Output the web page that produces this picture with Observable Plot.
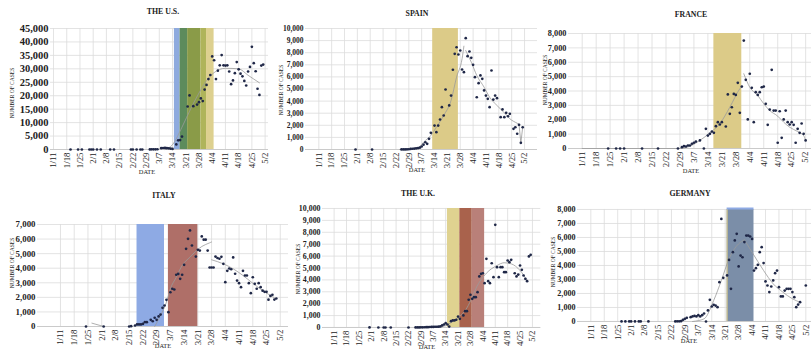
<!DOCTYPE html>
<html><head><meta charset="utf-8">
<script src="https://cdn.jsdelivr.net/npm/d3@7"></script>
<script src="https://cdn.jsdelivr.net/npm/@observablehq/plot@0.6"></script>
<style>
html,body{margin:0;padding:0;background:#fff;overflow:hidden;}
#root{position:relative;width:811px;height:349px;overflow:hidden;font-family:"Liberation Serif","Times New Roman",serif;color:#222;}
#root svg, #root svg text{font-family:"Liberation Serif","Times New Roman",serif !important;}
.t{position:absolute;transform:translate(-50%,-50%);white-space:nowrap;line-height:1;}
.title{font-size:7.8px;font-weight:bold;}
.xl{font-size:6.4px;}
.yl{font-size:5.5px;transform:translate(-50%,-50%) rotate(-90deg);}
.panel{position:absolute;}
</style></head><body><div id="root"></div>
<script>
// ---------- data ----------
const dateTicks = ["1/11","1/18","1/25","2/1","2/8","2/15","2/22","2/29","3/7","3/14","3/21","3/28","4/4","4/11","4/18","4/25","5/2"];

const usYTicks = [0,5000,10000,15000,20000,25000,30000,35000,40000,45000];
const spainYTicks = [0,1000,2000,3000,4000,5000,6000,7000,8000,9000,10000];
const franceYTicks = [0,1000,2000,3000,4000,5000,6000,7000,8000];
const italyYTicks = [0,1000,2000,3000,4000,5000,6000,7000];
const ukYTicks = [0,1000,2000,3000,4000,5000,6000,7000,8000,9000,10000];
const germanyYTicks = [0,1000,2000,3000,4000,5000,6000,7000,8000];

const usCases = [["1/20",1],["1/24",1],["1/26",1],["1/30",1],["1/31",1],["2/1",1],["2/3",1],["2/5",1],["2/10",1],["2/12",1],["2/21",1],["2/22",1],["2/24",1],["2/26",1],["2/27",1],["3/2",30],["3/3",50],["3/4",60],["3/5",80],["3/6",100],["3/8",500],["3/9",550],["3/10",600],["3/11",500],["3/12",450],["3/13",300],["3/14",200],["3/16",1900],["3/17",3400],["3/18",3500],["3/19",4800],["3/22",16000],["3/23",20100],["3/25",16100],["3/27",16700],["3/28",17600],["3/29",19000],["3/30",18000],["3/31",22300],["4/1",24000],["4/2",26200],["4/3",27700],["4/4",34600],["4/5",33200],["4/6",26200],["4/7",29300],["4/8",31300],["4/9",35100],["4/10",31300],["4/11",31200],["4/12",31300],["4/13",29000],["4/14",24300],["4/15",25700],["4/16",28400],["4/17",32500],["4/18",29800],["4/19",28200],["4/20",27200],["4/21",25500],["4/22",23800],["4/23",29000],["4/24",30700],["4/25",38200],["4/26",32100],["4/27",29100],["4/28",22600],["4/29",20300],["4/30",31200],["5/1",31600]];
const usTrend = [["3/10",0],["3/14",1800],["3/19",8300],["3/24",15700],["3/28",21000],["4/1",25600],["4/5",28600],["4/11",30200],["4/18",30000],["4/23",27600],["4/29",24800]];
const usBands = [["3/15","3/18"],["3/18","3/22"],["3/22","3/29"],["3/29","4/1"],["4/1","4/5"]];

const spainCases = [["1/31",1],["2/9",1],["2/25",5],["2/26",8],["2/27",10],["2/28",15],["2/29",20],["3/1",50],["3/2",60],["3/3",80],["3/4",100],["3/5",120],["3/6",150],["3/7",250],["3/8",400],["3/9",600],["3/10",470],["3/11",880],["3/12",1380],["3/14",1980],["3/15",1430],["3/16",1980],["3/17",2480],["3/18",3500],["3/19",2810],["3/20",4960],["3/22",3640],["3/23",4460],["3/24",6590],["3/25",7910],["3/26",8450],["3/27",7850],["3/28",8180],["3/29",6610],["3/30",6390],["3/31",9200],["4/1",7710],["4/2",8100],["4/3",7580],["4/4",7000],["4/5",5980],["4/6",4320],["4/7",5480],["4/8",6120],["4/9",5840],["4/10",4880],["4/11",4460],["4/12",4190],["4/13",3500],["4/14",6530],["4/15",4130],["4/16",4460],["4/17",4240],["4/19",2670],["4/20",3310],["4/21",2670],["4/22",3030],["4/23",2750],["4/24",2950],["4/26",1710],["4/27",1840],["4/28",1300],["4/29",2040],["4/30",550],["5/1",1840]];
const spainTrend1 = [["2/24",0],["3/1",0],["3/5",100],["3/8",600],["3/12",1160],["3/15",1840],["3/19",2810],["3/23",4050],["3/26",5980],["3/29",7500],["3/30",8540]];
const spainTrend2 = [["3/31",8180],["4/3",7220],["4/6",6120],["4/10",5150],["4/13",4320],["4/17",3640],["4/21",3030],["4/24",2540],["4/28",2170],["4/29",2090]];
const spainTrend3 = [["4/29",2090],["4/30",550],["5/1",1840]];
const spainBands = [["3/13","3/27"]];

const franceCases = [["1/24",1],["1/28",1],["1/30",1],["2/1",1],["2/10",1],["2/18",1],["2/28",1],["3/1",90],["3/2",160],["3/3",140],["3/4",210],["3/5",210],["3/6",330],["3/7",400],["3/8",480],["3/10",560],["3/12",0],["3/13",1370],["3/14",900],["3/15",1020],["3/16",1180],["3/17",1090],["3/18",1550],["3/19",1830],["3/20",1670],["3/21",1830],["3/23",1530],["3/24",3760],["3/25",2410],["3/26",2870],["3/27",3800],["3/28",3730],["3/29",4570],["3/30",2480],["3/31",4310],["4/1",7510],["4/2",4780],["4/3",2020],["4/4",5200],["4/5",4220],["4/6",1830],["4/7",3920],["4/8",3730],["4/9",3920],["4/10",4260],["4/11",4310],["4/12",3110],["4/13",1650],["4/14",2710],["4/15",5470],["4/16",2640],["4/17",2640],["4/18",400],["4/19",2590],["4/20",740],["4/21",2020],["4/22",2640],["4/23",1830],["4/24",1670],["4/25",1830],["4/26",1650],["4/27",400],["4/28",1370],["4/29",1090],["4/30",1740],["5/1",1020],["5/2",560]];
const franceTrend1 = [["1/11",0],["2/29",0],["3/5",160],["3/10",560],["3/15",1090],["3/20",1720],["3/25",2870],["3/30",4150],["3/31",4310]];
const franceTrend2 = [["4/1",5200],["4/4",4260],["4/8",3690],["4/11",3110],["4/14",2640],["4/18",2250],["4/21",1830],["4/24",1480],["4/28",1180],["5/1",900],["5/2",560]];
const franceBands = [["3/17","3/31"]];

const italyCases = [["1/24",1],["2/2",1],["2/15",0],["2/16",20],["2/18",70],["2/19",140],["2/20",140],["2/21",140],["2/22",180],["2/23",300],["2/24",300],["2/26",460],["2/27",360],["2/28",600],["2/29",460],["3/1",690],["3/2",820],["3/3",1280],["3/4",1440],["3/5",1830],["3/6",980],["3/7",2350],["3/8",2590],["3/9",2540],["3/10",3550],["3/11",3610],["3/12",3270],["3/13",3550],["3/14",4230],["3/15",5330],["3/16",6020],["3/17",6590],["3/18",5560],["3/20",4800],["3/21",5260],["3/22",5210],["3/23",6180],["3/24",5960],["3/25",5960],["3/26",5210],["3/27",4050],["3/28",4050],["3/29",4050],["3/30",4800],["3/31",4700],["4/1",4650],["4/2",4780],["4/3",4300],["4/4",3040],["4/5",3820],["4/6",3980],["4/7",3930],["4/8",4740],["4/9",3620],["4/10",3150],["4/11",2970],["4/12",2700],["4/13",3820],["4/14",3500],["4/15",3500],["4/16",2970],["4/17",2290],["4/18",3380],["4/19",2930],["4/20",2590],["4/21",2970],["4/22",2700],["4/23",2460],["4/24",2380],["4/25",2380],["4/26",1840],["4/27",2100],["4/28",2180],["4/29",1850],["4/30",1920]];
const italyTrend0 = [["1/27",230],["2/2",0]];
const italyTrend1 = [["2/28",0],["3/2",750],["3/5",1670],["3/7",2590],["3/10",3380],["3/13",4190],["3/17",4760],["3/20",5170],["3/23",5490],["3/27",5740],["3/28",5800]];
const italyTrend2 = [["3/28",4580],["4/3",4300],["4/8",3960],["4/13",3500],["4/18",2970],["4/23",2470],["4/27",2130],["4/29",1980]];
const italyBands = [["2/19","3/4"],["3/6","3/21"]];

const ukCases = [["1/31",2],["2/5",1],["2/8",1],["2/9",1],["2/12",1],["2/22",1],["2/26",5],["2/27",5],["2/28",5],["2/29",10],["3/1",15],["3/2",20],["3/3",25],["3/4",30],["3/5",40],["3/6",45],["3/7",50],["3/8",60],["3/9",60],["3/10",70],["3/11",90],["3/12",170],["3/13",250],["3/14",360],["3/15",250],["3/16",80],["3/17",530],["3/18",590],["3/19",590],["3/20",650],["3/21",920],["3/22",730],["3/24",1010],["3/25",1370],["3/26",1370],["3/27",2330],["3/28",2750],["3/29",2410],["3/30",2550],["3/31",2550],["4/1",2970],["4/2",4290],["4/3",4510],["4/4",4560],["4/5",3720],["4/6",5770],["4/7",3890],["4/8",3720],["4/9",5400],["4/10",4230],["4/11",8630],["4/12",5070],["4/13",4230],["4/14",5070],["4/15",5070],["4/16",4650],["4/17",4650],["4/18",5630],["4/19",5490],["4/20",5690],["4/22",4560],["4/23",4290],["4/24",4450],["4/25",5210],["4/26",4850],["4/27",4370],["4/28",4090],["4/29",3890],["4/30",5970],["5/1",6110]];
const ukTrend = [["2/26",0],["3/10",0],["3/14",170],["3/20",730],["3/26",1650],["3/29",2550],["3/31",3250],["4/6",4560],["4/12",5210],["4/16",5440],["4/20",5350],["4/25",4790],["4/29",3950]];
const ukBands = [["3/15","3/22"],["3/22","3/29"],["3/29","4/5"]];

const germanyCases = [["1/27",1],["1/29",1],["1/31",1],["2/1",1],["2/3",1],["2/5",1],["2/6",1],["2/10",1],["2/24",5],["2/25",10],["2/26",15],["2/27",20],["2/28",120],["2/29",190],["3/1",260],["3/3",310],["3/4",360],["3/5",400],["3/6",360],["3/7",450],["3/8",360],["3/9",450],["3/10",570],["3/11",0],["3/12",790],["3/13",1550],["3/14",1070],["3/15",1190],["3/16",1140],["3/17",1020],["3/18",2810],["3/19",7330],["3/20",3120],["3/22",3290],["3/23",4400],["3/24",2330],["3/25",4950],["3/26",5790],["3/27",6260],["3/28",3930],["3/29",4710],["3/30",4590],["3/31",5670],["4/1",6140],["4/2",6140],["4/3",6070],["4/4",5900],["4/5",3640],["4/6",3810],["4/7",4050],["4/8",4950],["4/9",5310],["4/10",4170],["4/11",2860],["4/12",2570],["4/13",2100],["4/14",2500],["4/15",2930],["4/16",3450],["4/17",3640],["4/18",2450],["4/19",1790],["4/20",1790],["4/21",2210],["4/22",2330],["4/23",2330],["4/24",2330],["4/25",2100],["4/26",1740],["4/27",1020],["4/28",1210],["4/29",1380],["5/2",2570]];
const germanyTrend1 = [["3/4",0],["3/10",190],["3/15",1500],["3/19",2930],["3/23",4480],["3/28",5550],["3/31",5830]];
const germanyTrend2 = [["3/31",5830],["4/4",4950],["4/10",3640],["4/15",2690],["4/20",2100],["4/25",1620],["4/29",1380]];
const germanyBands = [["3/22","4/5"]];

// ---------- styles ----------
const usBandColors = ["#8eaade","#5d8b5c","#8a9b48","#afb45a","#ddd08f"];
const spainBandColors = ["#dccb88"];
const franceBandColors = ["#dccb88"];
const italyBandColors = ["#8eaae4","#af6f68"];
const ukBandColors = ["#dfd290","#a9624c","#b98079"];
const germanyBandColors = ["#7b8ea8"];

// ---------- helpers ----------
const day = s => { const [m, d] = s.split("/").map(Number); return (Date.UTC(2020, m - 1, d) - Date.UTC(2020, 0, 11)) / 864e5; };
const tickDays = dateTicks.map(day);
const labelOf = new Map(dateTicks.map(s => [day(s), s]));
const root = document.getElementById("root");
const FONT = '"Liberation Serif", "Times New Roman", serif';

const panels = [
  {title:"THE U.S.", cases:usCases, trends:[usTrend], linear:[], bands:usBands, colors:usBandColors, yTicks:usYTicks,
   left:50, right:268, top:28, zero:149, xd:[-1.6,113.8], yFont:10.5, titleXY:[163,12], dateXY:[147,172], yTitleXY:[13,93]},
  {title:"SPAIN", cases:spainCases, trends:[spainTrend1, spainTrend2], linear:[spainTrend3], bands:spainBands, colors:spainBandColors, yTicks:spainYTicks,
   left:305, right:537, top:28, zero:149, xd:[-7.24,119.06], yFont:7.5, titleXY:[417,14], dateXY:[417,170], yTitleXY:[282,90]},
  {title:"FRANCE", cases:franceCases, trends:[franceTrend1, franceTrend2], linear:[], bands:franceBands, colors:franceBandColors, yTicks:franceYTicks,
   left:568, right:811, top:33, zero:148, xd:[-6.87,114.94], yFont:8.3, titleXY:[691,15], dateXY:[691,171], yTitleXY:[546,80]},
  {title:"ITALY", cases:italyCases, trends:[italyTrend1, italyTrend2], linear:[italyTrend0], bands:italyBands, colors:italyBandColors, yTicks:italyYTicks,
   left:37, right:288, top:224, zero:326, xd:[-11.72,116.2], yFont:8.9, titleXY:[164,196], dateXY:[163,346], yTitleXY:[13,263]},
  {title:"THE U.K.", cases:ukCases, trends:[ukTrend], linear:[], bands:ukBands, colors:ukBandColors, yTicks:ukYTicks,
   left:321.7, right:540, top:208, zero:327, xd:[-6.55,116.71], yFont:7.9, titleXY:[418,194], dateXY:[427,347], yTitleXY:[299,269]},
  {title:"GERMANY", cases:germanyCases, trends:[germanyTrend1, germanyTrend2], linear:[], bands:germanyBands, colors:germanyBandColors, yTicks:germanyYTicks,
   left:576.7, right:811, top:209, zero:321, xd:[-6.93,115.1], yFont:8.1, titleXY:[690,194], dateXY:[689,341], yTitleXY:[554,262], topStripe:"#8eaae4", edge:"#dccb88"}
];

function build(p) {
  const mL = 45, mR = 6, mT = 6, mB = 30;
  const w = p.right - p.left, h = p.zero - p.top;
  const yMax = p.yTicks[p.yTicks.length - 1];
  const X = d => day(d[0]), Y = d => d[1];
  const marks = [
    Plot.gridY(p.yTicks, {stroke: "#dcdcdc", strokeOpacity: 1, strokeWidth: 0.8}),
    Plot.gridX(tickDays, {stroke: "#dcdcdc", strokeOpacity: 1, strokeWidth: 0.8}),
    ...p.bands.map((b, i) => Plot.rect([b], {x1: d => day(d[0]), x2: d => day(d[1]), y1: () => 0, y2: () => yMax, fill: p.colors[i]}))
  ];
  if (p.edge) marks.push(Plot.ruleX([p.bands[0]], {x: d => day(d[0]), y1: () => 0, y2: () => yMax, stroke: p.edge, strokeWidth: 1}));
  if (p.topStripe) marks.push(Plot.ruleY([yMax], {x1: () => day(p.bands[0][0]), x2: () => day(p.bands[0][1]), stroke: p.topStripe, strokeWidth: 2, dy: -1}));
  marks.push(
    Plot.ruleY([0], {stroke: "#c4c4c4", strokeWidth: 0.8}),
    Plot.axisY(p.yTicks, {tickSize: 0, tickPadding: 2, tickFormat: d3.format(","), fontSize: p.yFont, fontWeight: "bold", fill: "#222", fontFamily: FONT}),
    Plot.axisX(tickDays, {tickSize: 0, tickPadding: 3, tickRotate: -90, tickFormat: d => labelOf.get(d), fontSize: 8.8, fill: "#222", fontFamily: FONT}),
    ...p.trends.map(t => Plot.line(t, {x: X, y: Y, stroke: "#9a9a9a", strokeWidth: 0.8, curve: "monotone-x"})),
    ...p.linear.map(t => Plot.line(t, {x: X, y: Y, stroke: "#9a9a9a", strokeWidth: 0.8})),
    Plot.dot(p.cases, {x: X, y: Y, r: 1.35, fill: "#1f2747"})
  );
  const svg = Plot.plot({
    width: w + mL + mR, height: h + mT + mB,
    marginLeft: mL, marginRight: mR, marginTop: mT, marginBottom: mB,
    x: {domain: p.xd, label: null},
    y: {domain: [0, yMax], label: null},
    style: {background: "transparent", overflow: "visible", fontFamily: FONT, maxWidth: "none"},
    marks
  });
  const div = document.createElement("div");
  div.className = "panel";
  div.style.left = (p.left - mL) + "px";
  div.style.top = (p.top - mT) + "px";
  div.appendChild(svg);
  root.appendChild(div);
}

function label(text, cls, xy) {
  const el = document.createElement("div");
  el.className = "t " + cls;
  el.textContent = text;
  el.style.left = xy[0] + "px";
  el.style.top = xy[1] + "px";
  root.appendChild(el);
}

panels.forEach(build);
panels.forEach(p => {
  label(p.title, "title", p.titleXY);
  label("DATE", "xl", p.dateXY);
  label("NUMBER OF CASES", "yl", p.yTitleXY);
});
</script></body></html>
